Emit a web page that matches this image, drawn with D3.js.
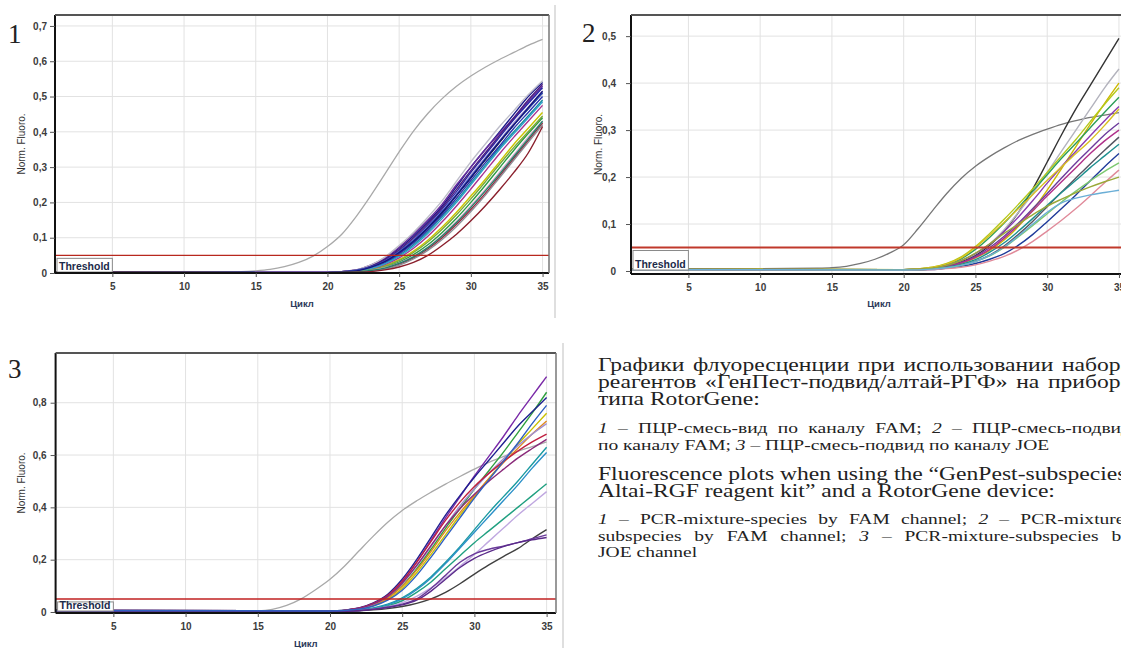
<!DOCTYPE html>
<html>
<head>
<meta charset="utf-8">
<script src="https://cdn.jsdelivr.net/npm/d3@7"></script>
<style>
  body { margin: 0; background: #fff; }
  svg { display: block; }
  .tick text { font-family: "Liberation Sans", Arial, sans-serif; font-size: 10px; font-weight: bold; fill: #3c3c3c; }
  .tick line { stroke: #555; }
  .domain { stroke: #111; stroke-width: 2; }
  .ylabel { font-family: "Liberation Sans", Arial, sans-serif; font-size: 10px; fill: #333; }
  .xlabel { font-family: "Liberation Sans", Arial, sans-serif; font-size: 9.5px; font-weight: bold; fill: #2c3a5a; }
  .thr text { font-family: "Liberation Sans", Arial, sans-serif; font-size: 10.5px; font-weight: bold; fill: #1c2a4a; }
  .num { font-family: "Liberation Serif", "Times New Roman", serif; font-size: 27px; fill: #222; }
  .cap { font-family: "Liberation Serif", "Times New Roman", serif; fill: #222; }
</style>
</head>
<body>
<svg id="chart" width="1121" height="648"></svg>
<script>
// sampling cycles of the amplification curves
var cycles = [1, 20, 22, 23, 24, 25, 26, 27, 28, 29, 30, 31, 32, 33, 34, 35];
var controlCycles = [1, 10, 14, 15, 16, 17, 18, 19, 20, 21, 22, 23, 24, 25, 26, 27, 28, 29, 30, 31, 32, 33, 34, 35];
var xTicks = [5, 10, 15, 20, 25, 30, 35];
var threshold = 0.05;

// panel 1 - FAM, species mix
var panel1Ticks = [0, 0.1, 0.2, 0.3, 0.4, 0.5, 0.6, 0.7];
var panel1Control = [0.003,0.003,0.004,0.006,0.01,0.018,0.03,0.048,0.075,0.11,0.16,0.218,0.28,0.343,0.402,0.452,0.494,0.529,0.558,0.583,0.605,0.625,0.645,0.662];
var panel1Curves = [
  [0.004,0.002,0.008,0.02,0.04,0.07,0.105,0.145,0.19,0.245,0.30,0.35,0.40,0.45,0.50,0.54],
  [0.003,0.002,0.009,0.022,0.043,0.073,0.11,0.15,0.195,0.25,0.30,0.35,0.395,0.44,0.485,0.53],
  [0.003,0.002,0.007,0.017,0.035,0.062,0.095,0.135,0.18,0.23,0.285,0.335,0.385,0.435,0.48,0.525],
  [0.003,0.001,0.006,0.015,0.031,0.056,0.088,0.127,0.17,0.22,0.27,0.32,0.37,0.42,0.465,0.51],
  [0.003,0.001,0.005,0.013,0.028,0.05,0.08,0.117,0.16,0.205,0.255,0.305,0.355,0.40,0.445,0.49],
  [0.003,0.001,0.006,0.015,0.03,0.054,0.085,0.122,0.165,0.212,0.262,0.312,0.36,0.41,0.455,0.50],
  [0.004,0.002,0.007,0.016,0.033,0.06,0.093,0.132,0.176,0.225,0.277,0.327,0.375,0.425,0.47,0.515],
  [0.003,0.002,0.009,0.022,0.045,0.078,0.115,0.158,0.205,0.26,0.315,0.365,0.415,0.46,0.505,0.545],
  [0.003,0.001,0.004,0.01,0.021,0.038,0.062,0.093,0.13,0.172,0.218,0.265,0.315,0.365,0.41,0.455],
  [0.003,0.001,0.003,0.008,0.017,0.031,0.052,0.08,0.115,0.155,0.2,0.248,0.298,0.348,0.395,0.44],
  [0.003,0.001,0.004,0.011,0.024,0.043,0.07,0.104,0.145,0.19,0.238,0.288,0.338,0.385,0.43,0.475],
  [0.002,0.001,0.003,0.006,0.013,0.025,0.043,0.068,0.1,0.138,0.18,0.225,0.275,0.325,0.375,0.425],
  [0.002,0.001,0.002,0.005,0.011,0.022,0.04,0.064,0.095,0.132,0.174,0.22,0.27,0.32,0.37,0.42],
  [0.003,0.001,0.005,0.012,0.026,0.047,0.076,0.112,0.154,0.2,0.25,0.3,0.35,0.395,0.44,0.485],
  [0.003,0.001,0.004,0.009,0.019,0.035,0.058,0.088,0.124,0.165,0.21,0.258,0.308,0.356,0.4,0.445],
  [0.004,0.002,0.008,0.019,0.038,0.066,0.1,0.14,0.185,0.237,0.29,0.34,0.39,0.44,0.49,0.535],
  [0.003,0.001,0.007,0.017,0.034,0.06,0.092,0.13,0.174,0.222,0.273,0.323,0.373,0.42,0.465,0.51],
  [0.002,0.001,0.003,0.007,0.015,0.028,0.047,0.073,0.107,0.146,0.19,0.236,0.285,0.335,0.385,0.43],
  [0.003,0.001,0.006,0.016,0.032,0.058,0.09,0.128,0.172,0.22,0.27,0.322,0.372,0.42,0.468,0.515],
  [0.002,0.001,0.003,0.007,0.014,0.027,0.046,0.072,0.105,0.143,0.186,0.232,0.28,0.33,0.38,0.43],
  [0.002,0.001,0.002,0.004,0.009,0.017,0.03,0.05,0.078,0.11,0.148,0.19,0.236,0.285,0.34,0.415]
];
var panel1Colors = ["#1b1b8a","#6b2d9e","#2626a6","#222222","#178c98","#2b35b0","#a596d2","#bdbdc9","#c9c400","#2d9a46","#a8338f","#a0203c","#8e8e96","#2f9fcc","#7aa838","#4b1d80","#3558c8","#d4a6c8","#15157a","#23806a","#8a1f2c"];

// panel 2 - FAM, subspecies mix
var panel2Ticks = [0, 0.1, 0.2, 0.3, 0.4, 0.5];
var panel2Control = [0.005,0.005,0.006,0.007,0.01,0.016,0.025,0.038,0.056,0.09,0.128,0.165,0.197,0.223,0.244,0.262,0.278,0.291,0.302,0.312,0.32,0.327,0.332,0.337];
var panel2Curves = [
  [0.004,0.003,0.006,0.011,0.02,0.033,0.055,0.085,0.125,0.175,0.232,0.29,0.345,0.395,0.445,0.495],
  [0.004,0.003,0.006,0.012,0.022,0.037,0.058,0.088,0.125,0.165,0.21,0.255,0.3,0.345,0.39,0.43],
  [0.004,0.002,0.005,0.009,0.016,0.028,0.044,0.066,0.095,0.13,0.172,0.218,0.265,0.312,0.357,0.40],
  [0.005,0.003,0.008,0.016,0.03,0.052,0.08,0.11,0.142,0.175,0.21,0.245,0.28,0.318,0.355,0.39],
  [0.004,0.003,0.007,0.014,0.026,0.046,0.072,0.102,0.135,0.17,0.205,0.24,0.272,0.305,0.338,0.37],
  [0.004,0.003,0.006,0.012,0.022,0.037,0.057,0.084,0.115,0.15,0.187,0.222,0.255,0.288,0.32,0.35],
  [0.005,0.003,0.008,0.015,0.028,0.05,0.076,0.104,0.133,0.163,0.193,0.222,0.25,0.278,0.31,0.345],
  [0.004,0.002,0.005,0.01,0.018,0.031,0.05,0.074,0.102,0.133,0.165,0.198,0.23,0.26,0.29,0.315],
  [0.004,0.002,0.005,0.009,0.017,0.029,0.046,0.07,0.098,0.128,0.16,0.19,0.22,0.25,0.277,0.30],
  [0.003,0.002,0.004,0.007,0.012,0.021,0.034,0.053,0.078,0.106,0.137,0.168,0.198,0.228,0.257,0.285],
  [0.004,0.002,0.004,0.008,0.014,0.024,0.04,0.06,0.085,0.112,0.14,0.167,0.193,0.22,0.245,0.27],
  [0.003,0.002,0.003,0.006,0.01,0.016,0.025,0.037,0.055,0.078,0.105,0.133,0.162,0.192,0.222,0.25],
  [0.003,0.002,0.004,0.007,0.012,0.02,0.032,0.05,0.073,0.097,0.122,0.147,0.17,0.192,0.212,0.23],
  [0.003,0.002,0.003,0.005,0.008,0.013,0.021,0.031,0.045,0.063,0.085,0.108,0.133,0.16,0.188,0.215],
  [0.004,0.003,0.006,0.012,0.022,0.038,0.058,0.08,0.1,0.12,0.138,0.153,0.167,0.179,0.19,0.20],
  [0.003,0.002,0.004,0.007,0.012,0.02,0.033,0.051,0.075,0.1,0.125,0.145,0.155,0.162,0.167,0.172]
];
var panel2Colors = ["#333333","#b3b3bd","#cdb800","#b5c81a","#2e9e58","#8a3cb0","#d8c020","#6c3a9c","#b0308a","#555560","#1f8f8f","#1f3a9a","#7cc870","#e08a9a","#9aa838","#6aaed6"];

// panel 3 - JOE, subspecies mix
var panel3Ticks = [0, 0.2, 0.4, 0.6, 0.8];
var panel3Control = [0.002,0.003,0.003,0.004,0.01,0.025,0.05,0.085,0.125,0.175,0.233,0.29,0.343,0.388,0.425,0.458,0.489,0.518,0.546,0.572,0.594,0.614,0.632,0.65];
var panel3Curves = [
  [0.006,0.004,0.015,0.032,0.062,0.115,0.19,0.275,0.36,0.44,0.52,0.595,0.67,0.75,0.825,0.90],
  [0.006,0.004,0.013,0.028,0.055,0.1,0.165,0.24,0.32,0.395,0.47,0.54,0.61,0.685,0.76,0.84],
  [0.006,0.004,0.016,0.035,0.068,0.125,0.2,0.285,0.37,0.445,0.515,0.58,0.645,0.71,0.765,0.82],
  [0.006,0.003,0.011,0.024,0.048,0.09,0.15,0.22,0.295,0.37,0.44,0.51,0.575,0.64,0.70,0.76],
  [0.006,0.003,0.012,0.027,0.053,0.098,0.16,0.232,0.31,0.38,0.445,0.51,0.57,0.625,0.68,0.73],
  [0.006,0.004,0.013,0.03,0.06,0.108,0.175,0.25,0.33,0.405,0.47,0.53,0.585,0.635,0.68,0.72],
  [0.006,0.004,0.015,0.033,0.064,0.118,0.19,0.27,0.35,0.42,0.48,0.53,0.575,0.615,0.65,0.68],
  [0.006,0.004,0.014,0.031,0.06,0.11,0.178,0.255,0.33,0.395,0.45,0.5,0.545,0.588,0.625,0.66],
  [0.005,0.003,0.008,0.016,0.03,0.054,0.09,0.135,0.19,0.25,0.315,0.38,0.44,0.5,0.565,0.63],
  [0.005,0.003,0.007,0.014,0.027,0.05,0.085,0.13,0.185,0.245,0.305,0.365,0.425,0.485,0.55,0.61],
  [0.005,0.003,0.006,0.012,0.023,0.043,0.075,0.115,0.165,0.215,0.265,0.31,0.355,0.40,0.445,0.49],
  [0.005,0.003,0.006,0.011,0.02,0.036,0.06,0.092,0.13,0.175,0.22,0.27,0.32,0.37,0.415,0.46],
  [0.004,0.003,0.005,0.008,0.013,0.021,0.033,0.05,0.075,0.108,0.145,0.18,0.212,0.242,0.28,0.315],
  [0.005,0.003,0.006,0.011,0.019,0.03,0.05,0.09,0.14,0.19,0.222,0.24,0.252,0.265,0.28,0.295],
  [0.004,0.003,0.005,0.01,0.017,0.027,0.045,0.08,0.125,0.17,0.205,0.23,0.25,0.265,0.276,0.285],
  [0.006,0.004,0.011,0.023,0.045,0.083,0.14,0.21,0.285,0.36,0.435,0.505,0.575,0.645,0.72,0.79]
];
var panel3Colors = ["#7a2aa8","#30a040","#202090","#c8c000","#e08a20","#a090d0","#c02040","#8a2a7a","#1a9aa0","#2a90c8","#20a080","#c0a8e0","#404040","#6a3a9a","#5a2a8a","#3060c0"];

// caption lines: [text, italic]
var captionLines = [
  { parts: [["Графики флуоресценции при использовании набора", false]], big: true, justify: true },
  { parts: [["реагентов «ГенПест-подвид/алтай-РГФ» на приборе", false]], big: true, justify: true },
  { parts: [["типа RotorGene:", false]], big: true, justify: false },
  { parts: [["1", true], [" – ПЦР-смесь-вид по каналу FAM; ", false], ["2", true], [" – ПЦР-смесь-подвид", false]], big: false, justify: true },
  { parts: [["по каналу FAM; ", false], ["3", true], [" – ПЦР-смесь-подвид по каналу JOE", false]], big: false, justify: false },
  { parts: [["Fluorescence plots when using the “GenPest-subspecies-", false]], big: true, justify: true },
  { parts: [["Altai-RGF reagent kit” and a RotorGene device:", false]], big: true, justify: false },
  { parts: [["1", true], [" – PCR-mixture-species by FAM channel; ", false], ["2", true], [" – PCR-mixture-", false]], big: false, justify: true },
  { parts: [["subspecies by FAM channel; ", false], ["3", true], [" – PCR-mixture-subspecies by", false]], big: false, justify: true },
  { parts: [["JOE channel", false]], big: false, justify: false }
];
var captionY = [371, 388, 405, 433, 450, 480, 497, 524, 541, 557];

var svg = d3.select("#chart");

function fmt(d) {
  return d === 0 ? "0" : d3.format(".1f")(d).replace(".", ",");
}

function drawPanel(p) {
  var x = d3.scaleLinear().domain(p.xDomain).range([p.left, p.right]);
  var y = d3.scaleLinear().domain(p.yDomain).range([p.bottom, p.top]);
  var g = svg.append("g");

  // light window border of the instrument screenshot
  g.append("line")
    .attr("x1", p.winRight).attr("x2", p.winRight)
    .attr("y1", p.winTop).attr("y2", p.winBottom)
    .attr("stroke", "#d4d4d4").attr("stroke-width", 1.5);

  svg.append("clipPath").attr("id", "clip" + p.id)
    .append("rect")
    .attr("x", p.left).attr("y", p.top)
    .attr("width", p.right - p.left).attr("height", p.bottom - p.top);

  g.selectAll("line.gy").data(p.yTicks.filter(function(d) { return d > 0; }))
    .join("line").attr("class", "gy")
    .attr("x1", p.left).attr("x2", p.right)
    .attr("y1", function(d) { return y(d); }).attr("y2", function(d) { return y(d); })
    .attr("stroke", "#e2e2e2").attr("stroke-width", 1);

  g.selectAll("line.gx").data(xTicks)
    .join("line").attr("class", "gx")
    .attr("x1", function(d) { return x(d); }).attr("x2", function(d) { return x(d); })
    .attr("y1", p.top).attr("y2", p.bottom)
    .attr("stroke", "#e2e2e2").attr("stroke-width", 1);

  var line = d3.line()
    .x(function(d) { return x(d[0]); })
    .y(function(d) { return y(d[1]); })
    .curve(d3.curveMonotoneX);

  var plot = g.append("g").attr("clip-path", "url(#clip" + p.id + ")");

  plot.append("path")
    .datum(d3.zip(controlCycles, p.control))
    .attr("d", line)
    .attr("fill", "none")
    .attr("stroke", p.controlColor)
    .attr("stroke-width", 1.3);

  plot.selectAll("path.curve").data(p.curves)
    .join("path").attr("class", "curve")
    .attr("d", function(v) { return line(d3.zip(cycles, v)); })
    .attr("fill", "none")
    .attr("stroke", function(v, i) { return p.colors[i]; })
    .attr("stroke-width", 1.4);

  // threshold line and its label
  plot.append("line")
    .attr("x1", p.left).attr("x2", p.right)
    .attr("y1", y(threshold)).attr("y2", y(threshold))
    .attr("stroke", p.thrColor).attr("stroke-width", p.thrWidth);

  var tg = g.append("g").attr("class", "thr");
  tg.append("rect")
    .attr("x", p.left + 2).attr("y", y(threshold) + p.thrGap)
    .attr("width", x(5) - p.left - 2).attr("height", y(0) - y(threshold) - p.thrGap - 1)
    .attr("fill", "#fff").attr("stroke", "#8a8a8a").attr("stroke-width", 1);
  tg.append("text")
    .attr("x", p.left + 4).attr("y", y(0) - 3)
    .text("Threshold");

  // axes
  g.append("g")
    .attr("transform", "translate(" + p.left + ",0)")
    .call(d3.axisLeft(y).tickValues(p.yTicks).tickSize(5).tickPadding(p.yPad).tickFormat(fmt))
    .call(function(a) { a.select(".domain").attr("d", "M0," + p.top + "V" + p.bottom); });

  g.append("g")
    .attr("transform", "translate(0," + p.bottom + ")")
    .call(d3.axisBottom(x).tickValues(xTicks).tickSize(4).tickPadding(p.xPad).tickFormat(d3.format("d")))
    .call(function(a) { a.select(".domain").attr("d", "M" + p.left + ",0H" + p.right); });

  // frame top and right
  g.append("line")
    .attr("x1", p.left).attr("x2", p.right).attr("y1", p.top).attr("y2", p.top)
    .attr("stroke", "#555").attr("stroke-width", 2);
  g.append("line")
    .attr("x1", p.right).attr("x2", p.right).attr("y1", p.top).attr("y2", p.bottom)
    .attr("stroke", "#777").attr("stroke-width", 1.5);

  g.append("text").attr("class", "ylabel")
    .attr("transform", "translate(" + p.yLabelX + "," + ((p.top + p.bottom) / 2) + ") rotate(-90)")
    .attr("text-anchor", "middle")
    .text("Norm. Fluoro.");

  g.append("text").attr("class", "xlabel")
    .attr("x", (p.left + p.right) / 2).attr("y", p.xLabelY)
    .attr("text-anchor", "middle")
    .text("Цикл");

  g.append("text").attr("class", "num")
    .attr("x", p.numX).attr("y", p.numY)
    .text(p.id);
}

drawPanel({
  id: "1", left: 55, right: 549, top: 15, bottom: 273,
  xDomain: [1, 35.45], yDomain: [0, 0.731], yTicks: panel1Ticks,
  control: panel1Control, controlColor: "#a9a9a9",
  curves: panel1Curves, colors: panel1Colors,
  thrColor: "#b8281e", thrWidth: 1.4, thrGap: 3,
  yPad: 3, xPad: 6, yLabelX: 25, xLabelY: 307,
  numX: 8, numY: 43, winRight: 555, winTop: 5, winBottom: 318
});

drawPanel({
  id: "2", left: 631, right: 1127, top: 15, bottom: 274,
  xDomain: [1, 35.56], yDomain: [-0.0064, 0.545], yTicks: panel2Ticks,
  control: panel2Control, controlColor: "#767676",
  curves: panel2Curves, colors: panel2Colors,
  thrColor: "#c0392b", thrWidth: 2, thrGap: 3,
  yPad: 10, xPad: 6, yLabelX: 602, xLabelY: 307,
  numX: 582, numY: 42, winRight: 1200, winTop: 5, winBottom: 318
});

drawPanel({
  id: "3", left: 55.6, right: 556, top: 353, bottom: 613,
  xDomain: [1, 35.65], yDomain: [-0.0038, 0.99], yTicks: panel3Ticks,
  control: panel3Control, controlColor: "#a9a9a9",
  curves: panel3Curves, colors: panel3Colors,
  thrColor: "#c02020", thrWidth: 1.5, thrGap: 3,
  yPad: 4, xPad: 6, yLabelX: 25, xLabelY: 647,
  numX: 8, numY: 378, winRight: 563, winTop: 343, winBottom: 648
});

// caption: the source page is stretched horizontally, lines are justified
// towards a right edge that lies beyond the crop
var capLeft = 598, capRight = 1131;
captionLines.forEach(function(l, i) {
  var stretch = l.big ? 1.21 : 1.26;
  var t = svg.append("text").attr("class", "cap")
    .attr("transform", "translate(" + capLeft + "," + captionY[i] + ") scale(" + stretch + ",1)")
    .style("font-size", l.big ? "19.5px" : "15.5px");
  l.parts.forEach(function(pt) {
    t.append("tspan").text(pt[0]).style("font-style", pt[1] ? "italic" : "normal");
  });
  if (l.justify) {
    var w = t.node().getComputedTextLength();
    var full = l.parts.map(function(pt) { return pt[0]; }).join("");
    var spaces = (full.match(/ /g) || []).length;
    var extra = ((capRight - capLeft) / stretch - w) / spaces;
    if (spaces > 0 && extra > 0) t.style("word-spacing", extra + "px");
  }
});
</script>
</body>
</html>
